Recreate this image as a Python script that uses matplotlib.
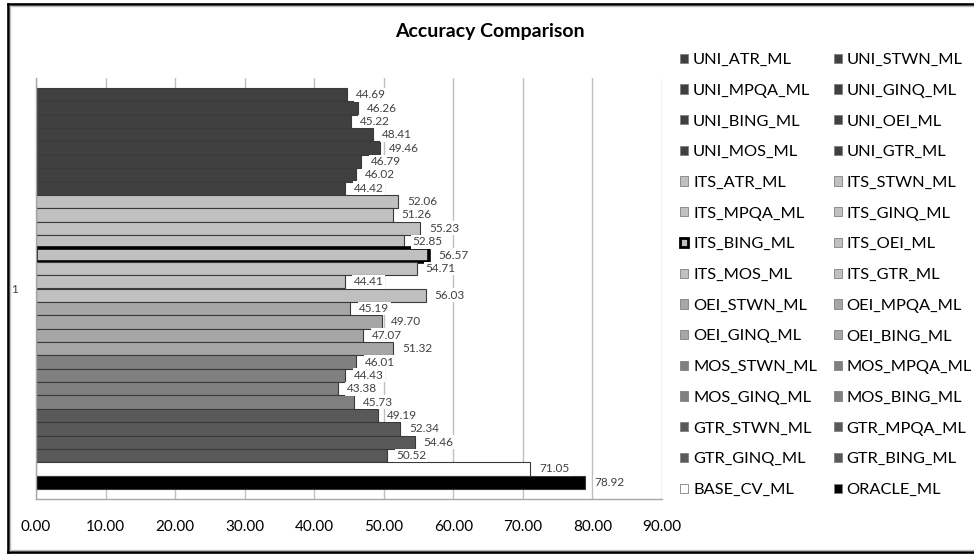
import matplotlib
matplotlib.use("Agg")
import matplotlib.pyplot as plt
from matplotlib.patches import Patch
from matplotlib.lines import Line2D

# Series names (legend order, also top-to-bottom bar order)
series = [
    "UNI_ATR_ML", "UNI_STWN_ML", "UNI_MPQA_ML", "UNI_GINQ_ML",
    "UNI_BING_ML", "UNI_OEI_ML", "UNI_MOS_ML", "UNI_GTR_ML",
    "ITS_ATR_ML", "ITS_STWN_ML", "ITS_MPQA_ML", "ITS_GINQ_ML",
    "ITS_BING_ML", "ITS_OEI_ML", "ITS_MOS_ML", "ITS_GTR_ML",
    "OEI_STWN_ML", "OEI_MPQA_ML", "OEI_GINQ_ML", "OEI_BING_ML",
    "MOS_STWN_ML", "MOS_MPQA_ML", "MOS_GINQ_ML", "MOS_BING_ML",
    "GTR_STWN_ML", "GTR_MPQA_ML", "GTR_GINQ_ML", "GTR_BING_ML",
    "BASE_CV_ML", "ORACLE_ML",
]

# Accuracy values per series
accuracy = [
    44.69, 46.26, 45.22, 48.41, 49.46, 46.79, 46.02, 44.42,
    52.06, 51.26, 55.23, 52.85, 56.57, 54.71, 44.41, 56.03,
    45.19, 49.70, 47.07, 51.32,
    46.01, 44.43, 43.38, 45.73,
    49.19, 52.34, 54.46, 50.52,
    71.05, 78.92,
]

category_label = "1"
x_ticks = [0, 10, 20, 30, 40, 50, 60, 70, 80, 90]
highlighted = "ITS_BING_ML"

family_colors = {
    "UNI": "#404040",
    "ITS": "#C0C0C0",
    "OEI": "#A6A6A6",
    "MOS": "#808080",
    "GTR": "#595959",
    "BASE": "#FFFFFF",
    "ORACLE": "#000000",
}

FONT = "Lato"
plt.rcParams["font.family"] = [FONT, "DejaVu Sans"]

W, H = 974, 554
fig = plt.figure(figsize=(W / 100, H / 100), dpi=100)
fig.patch.set_facecolor("white")

def fx(px):
    return px / W

def fy(py):
    return 1 - py / H

# Plot area
left, right, top, bottom = 36, 662, 78, 499
ax = fig.add_axes([fx(left), fy(bottom), fx(right - left), (bottom - top) / H])

n = len(series)
for i, (name, val) in enumerate(zip(series, accuracy)):
    color = family_colors[name.split("_")[0]]
    if name == highlighted:
        ec, lw = "#000000", 2.6
    else:
        ec, lw = "#3A3A3A", 0.8
    ax.barh(i, val, height=1.0, color=color, edgecolor=ec, linewidth=lw, zorder=2)
    ax.annotate(f"{val:.2f}", xy=(val, i), xytext=(9, 0), textcoords="offset pixels",
                ha="left", va="center", fontsize=8.5, color="#404040", zorder=4,
                bbox=dict(boxstyle="square,pad=0.12", fc="white", ec="none"))

ax.set_xlim(0, 90)
ax.set_ylim(n - 0.5 + 0.75, -0.5 - 0.75)
ax.set_xticks(x_ticks)
ax.set_xticklabels([f"{t:.2f}" for t in x_ticks], fontsize=11, color="#000000")
ax.set_yticks([(n - 1) / 2])
ax.set_yticklabels([category_label], fontsize=8.5, color="#404040")
ax.tick_params(axis="x", length=0, pad=15)
ax.tick_params(axis="y", length=0, pad=13)
ax.xaxis.grid(True, color="#BFBFBF", linewidth=1.0, zorder=0)
ax.set_axisbelow(True)
for side in ("top", "right"):
    ax.spines[side].set_visible(False)
for side in ("left", "bottom"):
    ax.spines[side].set_color("#A6A6A6")
    ax.spines[side].set_linewidth(1.0)

# Title
fig.text(fx(490), fy(32), "Accuracy Comparison", ha="center", va="center",
         fontsize=14, fontweight="bold", color="#000000")

# Legend, filled row by row in two columns
handles = []
for name in series:
    color = family_colors[name.split("_")[0]]
    if name == highlighted:
        handles.append(Patch(facecolor=color, edgecolor="#000000", linewidth=2.0, label=name))
    else:
        handles.append(Patch(facecolor=color, edgecolor="#808080", linewidth=0.6, label=name))
ordered = handles[0::2] + handles[1::2]
fig.legend(handles=ordered, ncol=2, loc="upper left",
           bbox_to_anchor=(fx(680), fy(53)), frameon=False, fontsize=11.8,
           handlelength=0.5, handleheight=0.5, handletextpad=0.3,
           columnspacing=1.0, labelspacing=1.02, borderpad=0, borderaxespad=0)

# Chart border
fig.add_artist(Line2D([fx(7.5), fx(7.5)], [fy(3.5), fy(552)], color="black", lw=1.9))
fig.add_artist(Line2D([fx(7.5), fx(974)], [fy(3.5), fy(3.5)], color="black", lw=1.9))
fig.add_artist(Line2D([fx(7.5), fx(974)], [fy(552), fy(552)], color="black", lw=1.9))
fig.add_artist(Line2D([fx(10), fx(10)], [fy(6), fy(549.5)], color="#BFBFBF", lw=1.0))
fig.add_artist(Line2D([fx(10), fx(974)], [fy(6), fy(6)], color="#BFBFBF", lw=1.0))
fig.add_artist(Line2D([fx(10), fx(974)], [fy(549.5), fy(549.5)], color="#BFBFBF", lw=1.0))

fig.savefig("out.png", dpi=100, facecolor="white")
